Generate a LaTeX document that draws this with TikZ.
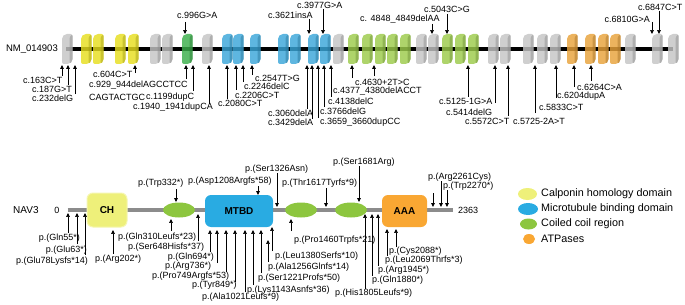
\documentclass[tikz,border=0pt]{standalone}
\usepackage{fontspec}
\setmainfont{Liberation Sans}
\usetikzlibrary{arrows.meta,shapes.geometric}
\definecolor{exg}{HTML}{C4C4C4}
\definecolor{exy}{HTML}{E6DE1E}
\definecolor{exG}{HTML}{3AAE4A}
\definecolor{exb}{HTML}{3AA6D9}
\definecolor{exl}{HTML}{9CCB4B}
\definecolor{exo}{HTML}{E8A23A}
\definecolor{chy}{HTML}{EEF07A}
\definecolor{mtb}{HTML}{29ABE2}
\definecolor{ccg}{HTML}{8DC63F}
\definecolor{aaa}{HTML}{F9A733}
\definecolor{pline}{HTML}{8C8C8C}
\tikzset{
  lab/.style={font=\fontsize{9}{10}\selectfont, inner sep=0pt, anchor=west},
  labE/.style={lab, anchor=east},
  mutarrow/.style={line width=0.55pt, -{Triangle[length=3.8pt,width=3.6pt]}},
  leg/.style={font=\fontsize{10.8}{12}\selectfont, inner sep=0pt, anchor=west},
  dom/.style={rounded corners=6pt, inner sep=0pt, font=\bfseries\fontsize{10}{12}\selectfont},
  cc/.style={ellipse, fill=ccg, inner sep=0pt, minimum width=32pt, minimum height=15pt},
  legdot/.style={ellipse, inner sep=0pt},
}
\newcommand\exon[2]{%
  \fill[#2, rounded corners=2pt, fill opacity=0.82] (#1,37) -- (#1+3,34) -- (#1+10.5,34) -- (#1+10.5,61) -- (#1+7.5,64) -- (#1,64) -- cycle;
  \fill[#2!70!black, rounded corners=1.5pt, fill opacity=0.45] (#1+7.5,37) -- (#1+10.5,34) -- (#1+10.5,61) -- (#1+7.5,64) -- cycle;
}
\newcommand\mut[4]{\coordinate (#1s) at (#2,#3); \coordinate (#1e) at (#2,#4); \draw[mutarrow] (#1s) -- (#1e);}
\begin{document}
\begin{tikzpicture}[x=1pt,y=-1pt]
\useasboundingbox (0,0) rectangle (685,305);
% ---------------- gene ----------------
\node[labE, font=\fontsize{9.5}{11}\selectfont] (nm) at (58,49) {NM\_014903};
\draw[line width=4.5pt] (66,49) coordinate (gl) -- (673,49) coordinate (gr);
\foreach \x/\c in {62/exg, 81/exy, 93/exy, 115/exy, 128/exy, 150/exg, 162/exg, 182/exG, 202/exg,
  222/exb, 233/exb, 250/exb, 278/exb, 290/exb, 308/exb, 320/exb, 333/exg,
  348/exl, 362/exl, 375/exl, 387/exl, 400/exl, 416/exg, 428/exg, 442/exl, 455/exl, 468/exl,
  488/exg, 500/exg, 523/exg, 537/exg, 550/exg, 567/exo, 585/exo, 598/exo, 610/exo,
  625/exg, 652/exg, 668/exg} {\exon{\x}{\c}}
% top labels
\node[lab] (t1) at (177,15) {c.996G>A};           \mut{a1}{185}{22}{34}
\node[lab] (t2) at (268,15) {c.3621insA};         \mut{a2}{309}{19}{34}
\node[lab] (t3) at (297,5) {c.3977G>A};           \mut{a3}{323}{9}{34}
\node[lab] (t4) at (360,19) {c. 4848\_4849delAA}; \mut{a4}{432}{24}{34}
\node[lab] (t5) at (424,9) {c.5043C>G};           \mut{a5}{447}{14}{34}
\node[labE] (t6) at (650,19) {c.6810G>A};         \mut{a6}{652}{22}{34}
\node[lab] (t7) at (638,7) {c.6847C>T};           \mut{a7}{659}{11}{34}
% bottom labels of gene
\node[lab] (b1) at (23,80) {c.163C>T};            \mut{c1}{62}{76}{65}
\node[lab] (b2) at (32,89) {c.187G>T};            \mut{c2}{68}{85}{65}
\node[lab] (b3) at (32,98) {c.232delG};           \mut{c3}{75}{94}{65}
\node[lab] (b4) at (93,74) {c.604C>T};            \mut{c4}{135}{73}{65}
\node[lab] (b5) at (89,85) {c.929\_944delAGCCTCC}; \mut{c5}{186}{79}{65}
\node[lab] (b6) at (89,97) {CAGTACTGC};
\node[lab] (b7) at (146,97) {c.1199dupC};         \mut{c6}{193}{91}{65}
\node[lab] (b8) at (133,107) {c.1940\_1941dupCA}; \mut{c7}{209}{104}{65}
\node[lab] (b9) at (218,103) {c.2080C>T};         \mut{c8}{227}{99}{65}
\node[lab] (b10) at (235,95) {c.2206C>T};         \mut{c9}{236}{90}{65}
\node[lab] (b11) at (244,86) {c.2246delC};        \mut{c10}{243}{82}{65}
\node[lab] (b12) at (255,78) {c.2547T>G};         \mut{c11}{252}{75}{65}
\node[lab] (b13) at (268,113) {c.3060delA};       \mut{c12}{307}{109}{65}
\node[lab] (b14) at (268,122.5) {c.3429delA};     \mut{c13}{312}{119}{65}
\node[lab] (b15) at (320,122.5) {c.3659\_3660dupCC}; \mut{c14}{318}{118}{65}
\node[lab] (b16) at (320,111) {c.3766delG};       \mut{c15}{324}{107}{65}
\node[lab] (b17) at (328,101) {c.4138delC};       \mut{c16}{331}{97}{65}
\node[lab] (b18) at (333,91.5) {c.4377\_4380delACCT}; \mut{c17}{352}{78}{65}
\node[lab] (b19) at (355,82) {c.4630+2T>C};       \mut{c18}{374}{76}{65}
\node[lab] (b20) at (439,101) {c.5125-1G>A};      \mut{c19}{468}{97}{65}
\node[lab] (b21) at (446,112) {c.5414delG};       \mut{c20}{495}{103}{65}
\node[lab] (b22) at (465,121.5) {c.5572C>T};      \mut{c21}{508}{116}{65}
\node[lab] (b23) at (513,121.5) {c.5725-2A>T};    \mut{c22}{535}{113}{65}
\node[lab] (b24) at (539,107) {c.5833C>T};        \mut{c23}{556}{98}{65}
\node[lab] (b25) at (557,96) {c.6204dupA};        \mut{c24}{574}{87}{65}
\node[lab] (b26) at (577,87) {c.6264C>A};         \mut{c25}{591}{81}{65}
% ---------------- protein ----------------
\node[lab, font=\fontsize{10}{12}\selectfont] (nav) at (13,210) {NAV3};
\node[font=\fontsize{9}{10}\selectfont, inner sep=0pt] (zero) at (57,210) {0};
\node[lab] (end) at (458,210) {2363};
\draw[pline, line width=3.5pt] ([xshift=8pt]zero.east) -- ([xshift=-5pt]end.west);
\node[dom, fill=chy, draw=chy!60!white, line width=1pt, minimum width=40pt, minimum height=34pt] (ch) at (107,210) {CH};
\node[cc] (cc1) at (179,210) {};
\node[dom, fill=mtb, minimum width=68pt, minimum height=32pt] (mtbd) at (239,211) {MTBD};
\node[cc] (cc2) at (301,210) {};
\node[cc] (cc3) at (351,210) {};
\node[dom, fill=aaa, minimum width=45pt, minimum height=32pt] (aaa) at (404.5,211) {AAA};
% upper protein labels
\node[lab] (p1) at (138,183) {p.(Trp332*)};          \mut{d1}{176}{189}{202}
\node[lab] (p2) at (188,181) {p.(Asp1208Argfs*58)};  \mut{d2}{258}{186}{195}
\node[lab] (p3) at (245,169) {p.(Ser1326Asn)};       \mut{d3}{277}{173}{207}
\node[lab] (p4) at (282,183) {p.(Thr1617Tyrfs*9)};   \mut{d4}{326}{188}{207}
\node[lab] (p5) at (333,162) {p.(Ser1681Arg)};       \mut{d5}{359}{166}{202}
\node[lab] (p6) at (428,177) {p.(Arg2261Cys)};       \mut{d6}{441}{181}{207}
\node[lab] (p7) at (443,186) {p.(Trp2270*)};         \mut{d7}{447}{190}{207}
\mut{d8}{433}{193}{207}
% lower protein labels
\node[labE] (q1) at (80,238) {p.(Gln55*)};           \mut{e1}{68}{233}{213}
\node[labE] (q2) at (87,250) {p.(Glu63*)};           \mut{e2}{77}{244}{213}
\node[labE] (q3) at (88,261) {p.(Glu78Lysfs*14)};    \mut{e3}{85}{255}{213}
\node[lab] (q4) at (95,259) {p.(Arg202*)};           \mut{e4}{113}{254}{230}
\node[lab] (q5) at (118,237) {p.(Gln310Leufs*23)};   \mut{e5}{171}{231}{219}
\node[lab] (q6) at (128,247) {p.(Ser648Hisfs*37)};   \mut{e6}{198}{241}{214}
\node[labE] (q7) at (214,257) {p.(Gln694*)};         \mut{e7}{210}{252}{230}
\node[lab] (q8) at (165,266) {p.(Arg736*)};          \mut{e8}{217}{263}{230}
\node[lab] (q9) at (152,276) {p.(Pro749Argfs*53)};   \mut{e9}{226}{272}{230}
\node[lab] (q10) at (192,285) {p.(Tyr849*)};         \mut{e10}{235}{282}{230}
\node[lab] (q11) at (202,297) {p.(Ala1021Leufs*9)};  \mut{e11}{245}{292}{230}
\node[lab] (q12) at (247,290) {p.(Lys1143Asnfs*36)}; \mut{e12}{253}{285}{230}
\node[lab] (q13) at (258,278) {p.(Ser1221Profs*50)}; \mut{e13}{261}{273}{230}
\node[lab] (q14) at (268,267) {p.(Ala1256Glnfs*14)}; \mut{e14}{268}{262}{240}
\node[lab] (q15) at (275,256) {p.(Leu1380Serfs*10)}; \mut{e15}{272}{251}{227}
\node[lab] (q16) at (294,240) {p.(Pro1460Trpfs*21)}; \mut{e16}{291}{231}{219}
\node[lab] (q17) at (335,293) {p.(His1805Leufs*9)};  \mut{e17}{365}{289}{214}
\node[lab] (q18) at (372,280) {p.(Gln1880*)};        \mut{e18}{372}{276}{214}
\node[lab] (q19) at (378,270) {p.(Arg1945*)};        \mut{e19}{378}{266}{214}
\node[lab] (q20) at (385,260) {p.(Leu2069Thrfs*3)};  \mut{e20}{387}{256}{229}
\node[lab] (q21) at (389,251) {p.(Cys2088*)};        \mut{e21}{396}{247}{229}
% legend
\node[legdot, fill=chy, minimum width=19pt, minimum height=12pt] (l1) at (527.5,194) {};
\node[leg] (lt1) at (541,194) {Calponin homology domain};
\node[legdot, fill=mtb, minimum width=20pt, minimum height=12pt] (l2) at (528,209) {};
\node[leg] (lt2) at (541,209) {Microtubule binding domain};
\node[legdot, fill=ccg, minimum width=17pt, minimum height=11pt] (l3) at (528.5,224) {};
\node[leg] (lt3) at (541,224) {Coiled coil region};
\node[legdot, fill=aaa, minimum width=12pt, minimum height=10pt] (l4) at (529,239) {};
\node[leg] (lt4) at (541,239) {ATPases};
\end{tikzpicture}
\end{document}
